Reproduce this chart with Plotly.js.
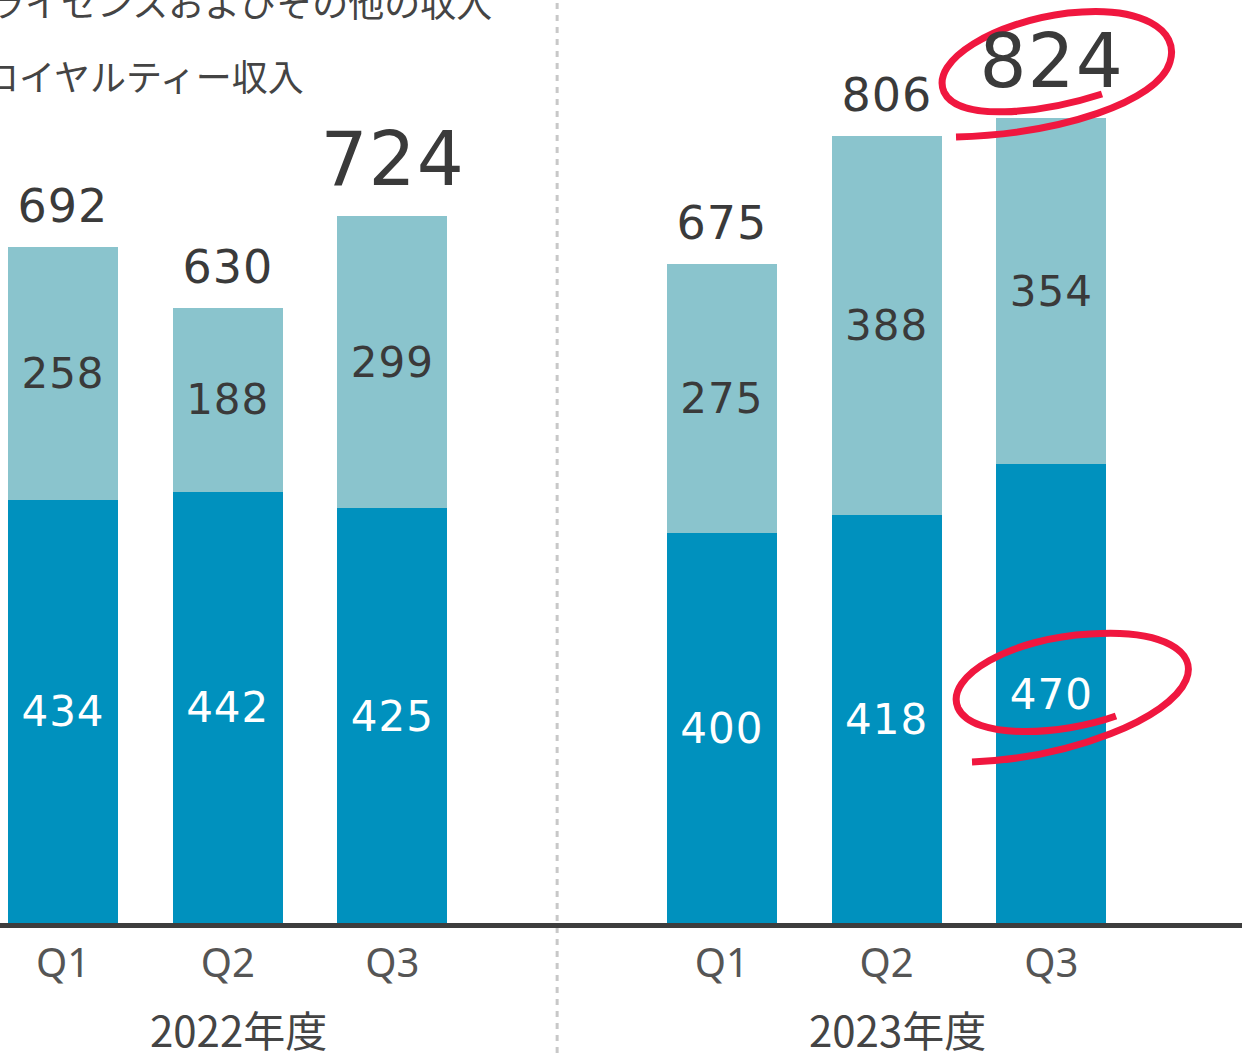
<!DOCTYPE html>
<html>
<head>
<meta charset="utf-8">
<script src="https://cdn.plot.ly/plotly-3.0.1.min.js"></script>
<style>
html,body{margin:0;padding:0;background:#fff;}
#chart{width:1242px;height:1053px;}
#chart text.bartext, #chart g.annotation.num text{letter-spacing:1px;}
</style>
</head>
<body>
<div id="chart"></div>
<script>
// ---- data ----
const years = ['2022年度', '2023年度'];
const quarters = ['Q1', 'Q2', 'Q3', 'Q1', 'Q2', 'Q3'];
const royalty = [434, 442, 425, 400, 418, 470];          // ロイヤルティー収入
const license = [258, 188, 299, 275, 388, 354];          // ライセンスおよびその他の収入
const totals = [692, 630, 724, 675, 806, 824];
const seriesNames = ['ライセンスおよびその他の収入', 'ロイヤルティー収入'];

// positions: a one-slot gap between fiscal years
const xpos = quarters.map((q, i) => i + Math.floor(i / 3));

const DARK = '#0091BE';
const LIGHT = '#8AC4CD';
const NUM_FONT = 'DejaVu Sans, Verdana, sans-serif';
const JP_FONT = 'Noto Sans CJK JP, Noto Sans, sans-serif';

const W = 1242, PH = 924;
const px = (x, y) => (x / W).toFixed(5) + ',' + (1 - y / PH).toFixed(5);
function pathFrom(start, curves) {
  let s = 'M ' + px(start[0], start[1]);
  curves.forEach(c => {
    s += ' C ' + px(c[0], c[1]) + ' ' + px(c[2], c[3]) + ' ' + px(c[4], c[5]);
  });
  return s;
}

const barWidth = 0.668;

const traces = [
  {
    type: 'bar', name: seriesNames[1], x: xpos, y: royalty, width: barWidth,
    marker: { color: DARK },
    text: royalty.map(String), textposition: 'inside', insidetextanchor: 'middle',
    textangle: 0, constraintext: 'none',
    textfont: { family: NUM_FONT, size: 42, color: '#ffffff' },
    hoverinfo: 'skip'
  },
  {
    type: 'bar', name: seriesNames[0], x: xpos, y: license, width: barWidth,
    marker: { color: LIGHT },
    text: license.map(String), textposition: 'inside', insidetextanchor: 'middle',
    textangle: 0, constraintext: 'none',
    textfont: { family: NUM_FONT, size: 42, color: '#3a3a3a' },
    hoverinfo: 'skip'
  }
];

const annotations = [];
const numIdx = [];
totals.forEach((t, i) => {
  const big = (i % 3 === 2);
  numIdx.push(annotations.length);
  annotations.push({
    x: xpos[i], y: t, xref: 'x', yref: 'y', text: String(t), showarrow: false,
    xanchor: 'center', yanchor: 'middle', yshift: big ? 57 : 41,
    font: { family: NUM_FONT, size: big ? 74 : 46, color: '#3a3a3a' }
  });
});
years.forEach((yr, k) => {
  annotations.push({
    x: xpos[k * 3 + 1], y: 1 - 1028 / PH, xref: 'x', yref: 'paper', text: yr,
    showarrow: false, xanchor: 'center', yanchor: 'middle', xshift: 11,
    font: { family: JP_FONT, size: 42, color: '#444' }
  });
});
// legend texts (cropped at the left edge as in the source)
annotations.push({
  x: 494 / W, y: 1 - 1 / PH, xref: 'paper', yref: 'paper', text: seriesNames[0],
  showarrow: false, xanchor: 'right', yanchor: 'middle',
  font: { family: JP_FONT, size: 36, color: '#444' }
});
annotations.push({
  x: 306 / W, y: 1 - 75 / PH, xref: 'paper', yref: 'paper', text: seriesNames[1],
  showarrow: false, xanchor: 'right', yanchor: 'middle',
  font: { family: JP_FONT, size: 36, color: '#444' }
});

const RED = '#F0173F';
const shapes = [
  { type: 'line', xref: 'x', yref: 'paper', x0: 3, x1: 3, y0: 1 - 1053 / PH, y1: 1,
    line: { color: '#c8c8c8', width: 3, dash: '6px,6px' }, layer: 'below' },
  { type: 'line', xref: 'paper', yref: 'paper', x0: 0, x1: 1, y0: -1.5 / PH, y1: -1.5 / PH,
    line: { color: '#3d3d3d', width: 5 } },
  { type: 'path', xref: 'paper', yref: 'paper',
    path: pathFrom([1102, 94], [[1040, 114, 958, 122, 944, 92], [930, 60, 995, 22, 1068, 13], [1142, 5, 1180, 30, 1170, 62], [1158, 102, 1060, 134, 956, 137]]),
    line: { color: RED, width: 7 } },
  { type: 'path', xref: 'paper', yref: 'paper',
    path: pathFrom([1116, 716], [[1060, 736, 973, 740, 958, 708], [944, 676, 1012, 638, 1090, 634], [1164, 629, 1198, 652, 1186, 680], [1170, 718, 1072, 758, 972, 762]]),
    line: { color: RED, width: 7 } }
];

const layout = {
  width: 1242, height: 1053,
  margin: { l: 0, r: 0, t: 0, b: 129, pad: 0 },
  paper_bgcolor: '#ffffff', plot_bgcolor: '#ffffff',
  barmode: 'stack', showlegend: false,
  xaxis: {
    type: 'linear', range: [-0.3825, 7.158], tickvals: xpos, ticktext: quarters,
    showgrid: false, zeroline: false, showline: false, ticks: '',
    ticklabelstandoff: 12,
    tickfont: { family: 'Noto Sans, sans-serif', size: 40, color: '#555' }
  },
  yaxis: { range: [0, 944.8], visible: false, showgrid: false, zeroline: false },
  annotations: annotations,
  shapes: shapes
};

Plotly.newPlot('chart', traces, layout, { displayModeBar: false, staticPlot: true }).then(gd => {
  const groups = gd.querySelectorAll('g.annotation');
  numIdx.forEach(i => { if (groups[i]) groups[i].classList.add('num'); });
});
</script>
</body>
</html>
